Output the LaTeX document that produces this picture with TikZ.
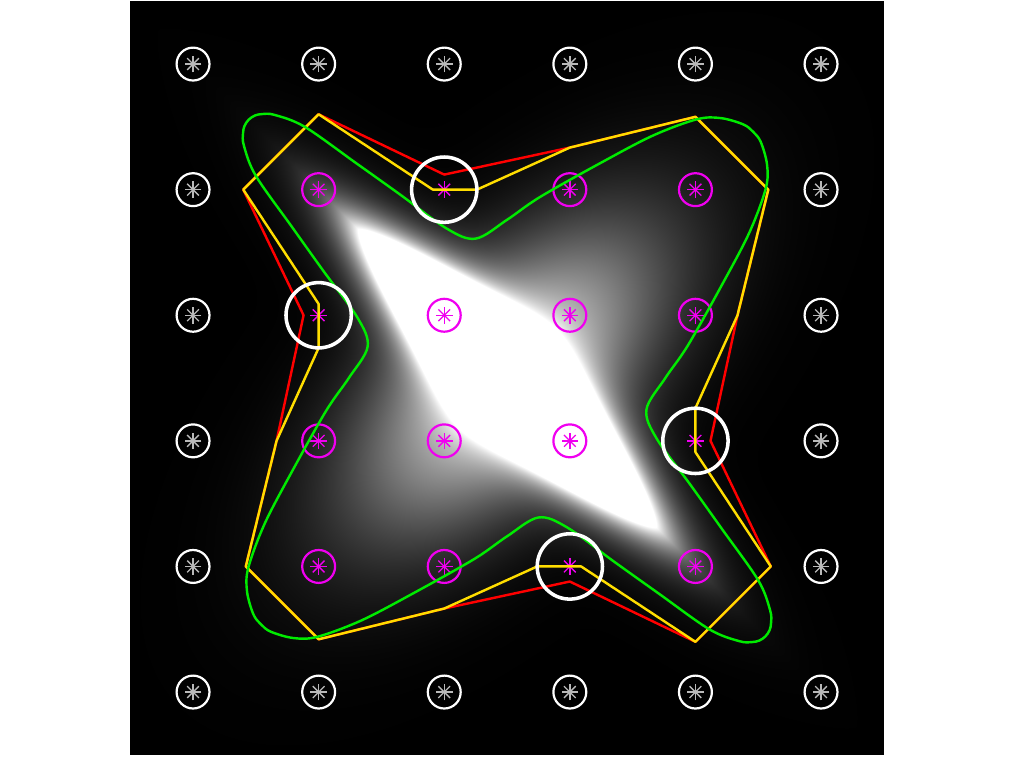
\documentclass[tikz,border=0pt]{standalone}
\usepackage{tikz}
\definecolor{mag}{RGB}{240,0,240}
\definecolor{ltgray}{RGB}{185,185,185}
\definecolor{redline}{RGB}{255,0,0}
\definecolor{yelline}{RGB}{255,221,0}
\definecolor{grnline}{RGB}{0,235,0}

% intensity: sharp streak on the main diagonal, its soft glow, and a soft cross streak
\pgfdeclarefunctionalshading{blob}{\pgfpoint{-50bp}{-50bp}}{\pgfpoint{50bp}{50bp}}{}{
  2 copy sub 3 1 roll add
  2 copy abs 0.9753 mul 0.0001 add 1.35 exp
  exch abs 0.2417 mul 0.0001 add 1.35 exp add
  0.74074 exp neg 4.6 add 2.71828 exch exp
  3 1 roll
  2 copy dup mul 0.0032 mul exch dup mul 0.0128 mul add neg 2.71828 exch exp 0.85 mul
  3 1 roll
  dup mul 0.04082 mul exch dup mul 0.0032 mul add neg 2.71828 exch exp 0.55 mul
  add add dup dup}

\begin{document}
\begin{tikzpicture}[x=1cm, y=-1cm,
  % asterisk marker drawn inside a point node
  asterisk/.style={path picture={
      \foreach \a in {0,45,90,135}
        \draw[#1, line width=0.3pt] (path picture bounding box.center)
          ++(\a:0.066) -- ++(\a+180:0.132);}},
  gridpt/.style={circle, draw=white, line width=0.5pt, minimum size=0.262cm,
                 inner sep=0pt, asterisk=ltgray},
  innerpt/.style={circle, draw=mag, line width=0.5pt, minimum size=0.262cm,
                  inner sep=0pt, asterisk=mag},
  pickpt/.style={circle, minimum size=0.262cm, inner sep=0pt, asterisk=mag},
  ring/.style={draw=white, line width=0.8pt},
  outline/.style={line width=0.55pt, line join=round}
]
\useasboundingbox[fill=white] (-1.537,-0.51) rectangle (6.616,5.605);

% image
\fill[black] (-0.5,-0.5) rectangle (5.5,5.5);
\shade[shading=blob] (-0.5,-0.5) rectangle (5.5,5.5);

% outer grid points
\foreach \i in {0,...,5} {
  \node[gridpt] (g-\i-0) at (\i,0) {};
  \node[gridpt] (g-\i-5) at (\i,5) {};
}
\foreach \j in {1,...,4} {
  \node[gridpt] (g-0-\j) at (0,\j) {};
  \node[gridpt] (g-5-\j) at (5,\j) {};
}

% inner grid points
\foreach \i/\j in {1/1,3/1,4/1,2/2,3/2,4/2,1/3,2/3,3/3,1/4,2/4,4/4}
  \node[innerpt] (g-\i-\j) at (\i,\j) {};

% picked points
\foreach \i/\j in {2/1,1/2,4/3,3/4}
  \node[pickpt] (g-\i-\j) at (\i,\j) {};

% red polygon
\draw[outline, redline] (1,0.40) -- (2,0.88) -- (3,0.665) -- (4,0.42)
  -- (4.58,1) -- (4.335,2) -- (4.12,3) -- (4.60,4)
  -- (4,4.60) -- (3,4.12) -- (2,4.335) -- (1,4.58)
  -- (0.42,4) -- (0.665,3) -- (0.88,2) -- (0.40,1) -- cycle;

% yellow polygon
\draw[outline, yelline] (1,0.40) -- (1.91,1) -- (2.26,1) -- (3,0.665) -- (4,0.42)
  -- (4.58,1) -- (4.335,2) -- (4,2.74) -- (4,3.09) -- (4.60,4)
  -- (4,4.60) -- (3.09,4) -- (2.74,4) -- (2,4.335) -- (1,4.58)
  -- (0.42,4) -- (0.665,3) -- (1,2.26) -- (1,1.91) -- (0.40,1) -- cycle;

% green curve
\draw[outline, grnline] plot[smooth cycle, tension=0.55] coordinates {
  (0.443,0.443) (0.492,0.41) (0.55,0.398) (0.65,0.405) (0.89,0.50) (1.30,0.79)
  (1.65,1.04) (2.02,1.31) (2.25,1.39) (2.50,1.24) (2.76,1.06) (3.24,0.79)
  (3.66,0.57) (4.01,0.44) (4.20,0.43) (4.38,0.48) (4.46,0.54)
  (4.52,0.62) (4.57,0.80) (4.56,0.99) (4.43,1.34) (4.21,1.76) (3.94,2.24)
  (3.76,2.50) (3.61,2.75) (3.69,2.98) (3.96,3.35) (4.21,3.70) (4.50,4.11)
  (4.595,4.35) (4.602,4.45) (4.59,4.508)
  (4.557,4.557)
  (4.508,4.59) (4.45,4.602) (4.35,4.595) (4.11,4.50) (3.70,4.21) (3.35,3.96)
  (2.98,3.69) (2.75,3.61) (2.50,3.76) (2.24,3.94) (1.76,4.21) (1.34,4.43)
  (0.99,4.56) (0.80,4.57) (0.62,4.52) (0.54,4.46)
  (0.48,4.38) (0.43,4.20) (0.44,4.01) (0.57,3.66) (0.79,3.24) (1.06,2.76)
  (1.24,2.50) (1.39,2.25) (1.31,2.02) (1.04,1.65) (0.79,1.30) (0.50,0.89)
  (0.405,0.65) (0.398,0.55) (0.41,0.492)};

% rings round the picked points
\foreach \n in {g-2-1, g-1-2, g-4-3, g-3-4}
  \draw[ring] (\n) circle (0.26);

\end{tikzpicture}
\end{document}
